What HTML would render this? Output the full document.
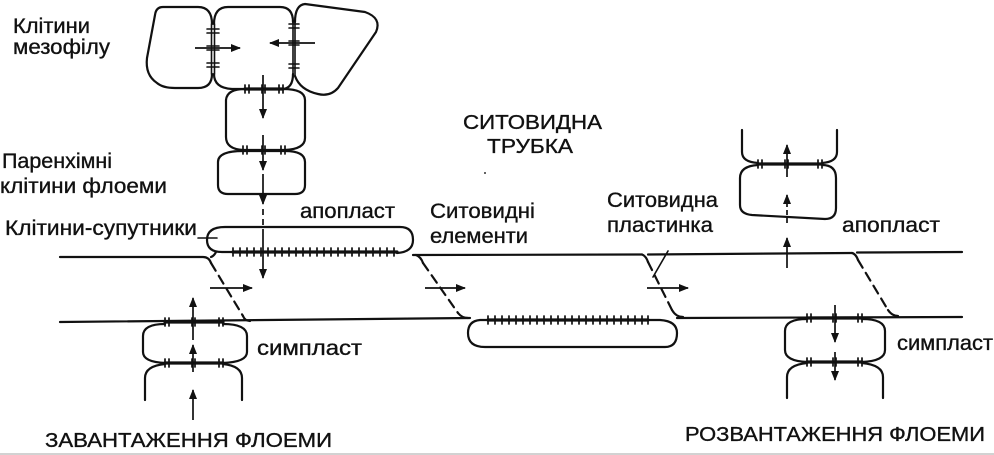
<!DOCTYPE html>
<html>
<head>
<meta charset="utf-8">
<style>
  html, body { margin: 0; padding: 0; background: #fff; }
  body { width: 994px; height: 455px; overflow: hidden; }
  svg { display: block; }
  text { font-family: "Liberation Sans", "DejaVu Sans", sans-serif; fill: #111; stroke: #111; stroke-width: 0.35; font-size: 21px; }
  text.cap { font-size: 20px; }
</style>
</head>
<body>
<svg width="994" height="455" viewBox="0 0 994 455" xmlns="http://www.w3.org/2000/svg">
  <defs>
    <marker id="ah" markerUnits="userSpaceOnUse" markerWidth="10" markerHeight="8" refX="9" refY="4" orient="auto">
      <path d="M0 0 L10 4 L0 8 z" fill="#111"/>
    </marker>
  </defs>
  <rect width="994" height="455" fill="#fff"/>

  <g fill="none" stroke="#111" stroke-width="2.2" stroke-linecap="round" stroke-linejoin="round">
    <!-- Mesophyll cells -->
    <path d="M212 24 Q212 7 198 7 L163 7 Q156 7 155 15 L147 58 Q145 75 157 83 Q163 88 175 88 L198 88 Q212 88 212 74"/>
    <path d="M214 24 Q214 7 228 7 L280 7 Q293 7 293 22"/>
    <path d="M214 74 Q214 88 232 89 L245 89"/>
    <path d="M283 89 Q293 88 293 74"/>
    <path d="M295 22 Q295 5 305 4 L365 12 Q382 18 376 32 L338 88 Q330 97 318 94 Q300 90 295 76"/>
    <!-- wall A/B -->
    <path d="M211.5 24 V74 M214.5 24 V74" stroke-width="1.6"/>
    <path d="M207 29 H219 M207 33 H219 M207 46 H219 M207 50 H219 M207 63 H219 M207 67 H219" stroke-width="1.6"/>
    <!-- wall B/C -->
    <path d="M293 22 V74 M295 22 V76" stroke-width="1.6"/>
    <path d="M289 24 H299 M289 28 H299 M289 41 H299 M289 45 H299 M289 64 H299 M289 68 H299" stroke-width="1.6"/>

    <!-- Parenchyma cell D -->
    <path d="M245 89 Q227 89 226 100 L226 137 Q226 149 243 150"/>
    <path d="M283 89 Q305 89 305 100 L305 138 Q305 149 285 150"/>
    <!-- Parenchyma cell E -->
    <path d="M243 151 Q218 151 218 162 L218 185 Q218 194 228 194 L295 194 Q305 194 305 185 L305 162 Q305 151 285 151"/>

    <!-- rows B/D and D/E -->
    <path d="M245 89 H283" stroke-width="3.2"/>
    <path d="M245 85v8M249 85v8M262 85v8M265 85v8M279 85v8M283 85v8" stroke-width="1.7"/>
    <path d="M243 150.5 H285" stroke-width="3.2"/>
    <path d="M243 146v8M247 146v8M262 146v8M265 146v8M281 146v8M285 146v8" stroke-width="1.7"/>

    <!-- Companion cell 1 -->
    <path d="M233 252 L222 252 Q207 252 207 240 Q207 227 225 227 L400 227 Q413 227 413 240 Q413 252 397 253"/>
    <path d="M233 252 H397" stroke-width="3.2"/>
    <path d="M233 248v8M240 248v8M247 248v8M254 248v8M261 248v8M268 248v8M275 248v8M282 248v8M289 248v8M296 248v8M303 248v8M310 248v8M317 248v8M324 248v8M331 248v8M338 248v8M345 248v8M352 248v8M359 248v8M366 248v8M373 248v8M380 248v8M387 248v8M394 248v8" stroke-width="1.7"/>
    <path d="M198 238 H217" stroke-width="1.6"/>

    <!-- Sieve tube top line -->
    <path d="M60 257 L203 257 Q209 257 211 263"/>
    <path d="M211 257 Q214 256 216 252"/>
    <path d="M413 255 L642 254.5"/>
    <path d="M416 255 Q421 257 423 263"/>
    <path d="M642 254.5 Q646 256 648 262"/>
    <path d="M648 254.5 L852 253"/>
    <path d="M852 253 Q856 254 858 260"/>
    <path d="M857 252.5 L962 252"/>

    <!-- Sieve tube bottom line -->
    <path d="M60 322 L470 318"/>
    <path d="M677 318 L962 317"/>

    <!-- Dashed sieve plates -->
    <path d="M211 263 L243 316" stroke-dasharray="9 6"/>
    <path d="M243 316 Q245 321 250 321"/>
    <path d="M423 263 L458 313" stroke-dasharray="9 6"/>
    <path d="M458 313 Q462 318 468 318"/>
    <path d="M648 262 L672 310" stroke-dasharray="9 6"/>
    <path d="M672 310 Q676 317 683 317"/>
    <path d="M858 260 L888 310" stroke-dasharray="9 6"/>
    <path d="M888 310 Q892 316 898 316"/>
    <!-- leader to sieve plate -->
    <path d="M668 251 L653 277" stroke-width="1.6"/>

    <!-- Companion cell 2 -->
    <path d="M488 320 L480 320 Q468 321 468 333 Q468 347 485 347 L665 347 Q677 347 677 333 Q677 321 660 320 L648 320"/>
    <path d="M488 320 H648" stroke-width="3.2"/>
    <path d="M488 316v8M495 316v8M502 316v8M509 316v8M516 316v8M523 316v8M530 316v8M537 316v8M544 316v8M551 316v8M558 316v8M565 316v8M572 316v8M579 316v8M586 316v8M593 316v8M600 316v8M607 316v8M614 316v8M621 316v8M628 316v8M635 316v8M642 316v8M648 316v8" stroke-width="1.7"/>

    <!-- Bottom-left cells (loading) -->
    <path d="M165 322 H223" stroke-width="3.2"/>
    <path d="M165 318v8M169 318v8M192 318v8M195 318v8M219 318v8M223 318v8" stroke-width="1.7"/>
    <path d="M165 324 Q143 324 143 336 L143 352 Q143 362 165 363"/>
    <path d="M223 324 Q247 324 247 336 L247 352 Q247 362 223 363"/>
    <path d="M165 363 H223" stroke-width="3.2"/>
    <path d="M165 359v8M169 359v8M192 359v8M195 359v8M219 359v8M223 359v8" stroke-width="1.7"/>
    <path d="M165 364 Q145 366 145 378 L145 400"/>
    <path d="M223 364 Q242 366 242 378 L242 400"/>

    <!-- Bottom-right cells (unloading) -->
    <path d="M807 318 H862" stroke-width="3.2"/>
    <path d="M807 314v8M811 314v8M833 314v8M836 314v8M858 314v8M862 314v8" stroke-width="1.7"/>
    <path d="M807 319 Q785 319 785 331 L785 350 Q785 361 807 362"/>
    <path d="M862 319 Q885 319 885 331 L885 350 Q885 361 862 362"/>
    <path d="M807 362 H862" stroke-width="3.2"/>
    <path d="M807 358v8M811 358v8M833 358v8M836 358v8M858 358v8M862 358v8" stroke-width="1.7"/>
    <path d="M807 363 Q787 365 787 377 L787 398"/>
    <path d="M862 363 Q883 365 883 377 L883 398"/>

    <!-- Top-right cells -->
    <path d="M742 130 L742 152 Q742 162 758 163"/>
    <path d="M837 130 L837 152 Q837 162 822 163"/>
    <path d="M758 164 H822" stroke-width="3.2"/>
    <path d="M758 160v8M762 160v8M785 160v8M788 160v8M818 160v8M822 160v8" stroke-width="1.7"/>
    <path d="M758 165 Q740 166 740 178 L740 205 Q740 214 752 215 L825 219 Q836 219 836 208 L836 178 Q836 165 822 165"/>
  </g>

  <!-- Arrows -->
  <g fill="none" stroke="#111" stroke-width="1.7">
    <path d="M195 48 L240 48" marker-end="url(#ah)"/>
    <path d="M315 43 L270 43" marker-end="url(#ah)"/>
    <path d="M263 75 L263 118" marker-end="url(#ah)"/>
    <path d="M263 135 L263 170" marker-end="url(#ah)"/>
    <path d="M263 174 L263 204" marker-end="url(#ah)"/>
    <path d="M263 209 L263 232" stroke-dasharray="6 4"/>
    <path d="M263 232 L263 278" marker-end="url(#ah)"/>
    <path d="M210 288 L252 288" marker-end="url(#ah)"/>
    <path d="M425 288 L465 288" marker-end="url(#ah)"/>
    <path d="M647 288 L688 288" marker-end="url(#ah)"/>
    <path d="M193 340 L193 298" marker-end="url(#ah)"/>
    <path d="M193 372 L193 345" marker-end="url(#ah)"/>
    <path d="M193 420 L193 390" marker-end="url(#ah)"/>
    <path d="M835 305 L835 342" marker-end="url(#ah)"/>
    <path d="M835 352 L835 380" marker-end="url(#ah)"/>
    <path d="M787 177 L787 145" marker-end="url(#ah)"/>
    <path d="M787 223 L787 195" stroke-dasharray="5 3" marker-end="url(#ah)"/>
    <path d="M787 268 L787 238" marker-end="url(#ah)"/>
  </g>

  <circle cx="485" cy="173" r="1" fill="#333"/>

  <!-- Labels -->
  <text x="13" y="33" textLength="77" lengthAdjust="spacingAndGlyphs">Клітини</text>
  <text x="13" y="54" textLength="97" lengthAdjust="spacingAndGlyphs">мезофілу</text>
  <text x="2" y="168" textLength="110" lengthAdjust="spacingAndGlyphs">Паренхімні</text>
  <text x="0" y="193" textLength="167" lengthAdjust="spacingAndGlyphs">клітини флоеми</text>
  <text x="5" y="235" textLength="192" lengthAdjust="spacingAndGlyphs">Клітини-супутники</text>
  <text x="300" y="218" textLength="95" lengthAdjust="spacingAndGlyphs">апопласт</text>
  <text class="cap" x="463" y="129" textLength="139" lengthAdjust="spacingAndGlyphs">СИТОВИДНА</text>
  <text class="cap" x="487" y="153" textLength="86" lengthAdjust="spacingAndGlyphs">ТРУБКА</text>
  <text x="430" y="218" textLength="105" lengthAdjust="spacingAndGlyphs">Ситовидні</text>
  <text x="430" y="243" textLength="98" lengthAdjust="spacingAndGlyphs">елементи</text>
  <text x="607" y="207" textLength="111" lengthAdjust="spacingAndGlyphs">Ситовидна</text>
  <text x="607" y="232" textLength="106" lengthAdjust="spacingAndGlyphs">пластинка</text>
  <text x="842" y="232" textLength="98" lengthAdjust="spacingAndGlyphs">апопласт</text>
  <text x="257" y="355" textLength="105" lengthAdjust="spacingAndGlyphs">симпласт</text>
  <text x="897" y="350" textLength="96" lengthAdjust="spacingAndGlyphs">симпласт</text>
  <text class="cap" x="45" y="447" textLength="287" lengthAdjust="spacingAndGlyphs">ЗАВАНТАЖЕННЯ ФЛОЕМИ</text>
  <text class="cap" x="685" y="441" textLength="300" lengthAdjust="spacingAndGlyphs">РОЗВАНТАЖЕННЯ ФЛОЕМИ</text>

  <line x1="0" y1="454" x2="994" y2="454" stroke="#c4c4c4" stroke-width="1.5"/>
</svg>
</body>
</html>
